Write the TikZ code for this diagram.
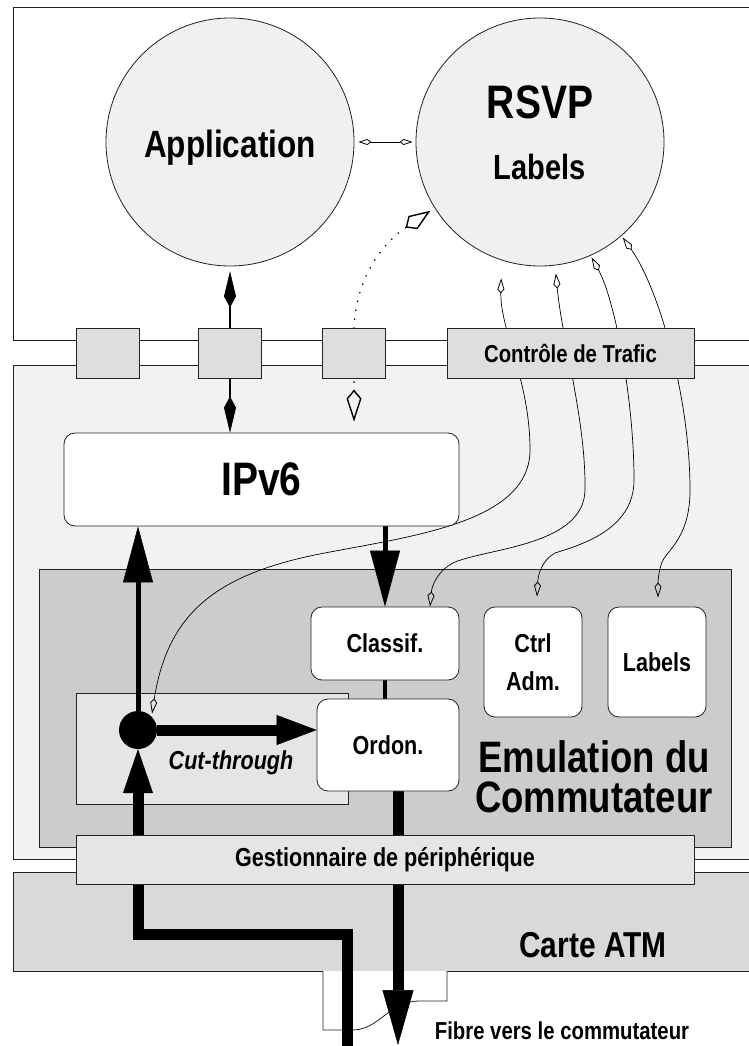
\documentclass[tikz,border=0pt]{standalone}
\usepackage{fontspec}
\usepackage{xcolor}
\usetikzlibrary{arrows.meta, calc}
\newfontfamily\hvfont{Liberation Sans}[FakeStretch=0.83]
\newcommand{\hvsize}[2]{\hvfont\bfseries\fontsize{#1}{#2}\selectfont}
\definecolor{CT_LINE}{HTML}{222222}
\definecolor{CT_DISC}{HTML}{F0F0F0}
\definecolor{CT_KERNEL}{HTML}{F2F2F2}
\definecolor{CT_PORT}{HTML}{DEDEDE}
\definecolor{CT_SWITCH}{HTML}{CCCCCC}
\definecolor{CT_CUT}{HTML}{E5E5E5}
\definecolor{CT_CARD}{HTML}{D9D9D9}
\pgfdeclarelayer{regions}
\pgfdeclarelayer{links}
\pgfsetlayers{regions,links,main}
\tikzset{
  edgeline/.style={draw=CT_LINE, line width=0.8pt},
  disc/.style={
    circle, edgeline, fill=CT_DISC,
    minimum size=248pt, inner sep=0pt},
  port/.style={
    rectangle, edgeline, fill=CT_PORT,
    minimum width=63pt, minimum height=50pt, inner sep=0pt},
  module/.style={
    rectangle, rounded corners=11pt, edgeline, fill=white,
    inner sep=0pt, align=center, font=\hvsize{26}{38}},
  ctlarrow/.style={
    {Kite[open,length=15pt,width=7pt,inset=4pt,line width=0.8pt]}-{Kite[open,length=15pt,width=7pt,inset=4pt,line width=0.8pt]},
    line width=0.7pt},
  dotlink/.style={
    {Kite[open,length=32pt,width=15pt,inset=9pt,line width=1.4pt]}-{Kite[open,length=30pt,width=16pt,inset=9pt,line width=1.4pt]},
    line width=1.8pt, dash pattern=on 0pt off 9pt, line cap=round},
  solidlink/.style={
    -{Kite[length=36pt,width=12pt,inset=11pt,line width=0.5pt]},
    line width=1.6pt},
  pkt/.style={
    -{Triangle[length=56pt,width=30pt,line width=0.5pt]},
    line width=5pt},
  cell/.style={line width=11pt, line join=miter},
}

\begin{document}
\begin{tikzpicture}[x=1pt, y=-1pt]

  \useasboundingbox (0,0) rectangle (749,1046);

  % regions
  \begin{pgfonlayer}{regions}
    \draw[edgeline, fill=white] (13,7) rectangle (770,340);
    \draw[edgeline, fill=CT_KERNEL] (13,365) rectangle (770,859);
    \draw[edgeline, fill=CT_CARD] (13,872) rectangle (770,971);
    \draw[edgeline, fill=white] (323,971) -- (323,1030) -- (352,1030)
      .. controls (380,1030) and (388,1001) .. (420,1001) -- (447,1001) -- (447,971);
    \draw[edgeline, fill=CT_SWITCH] (39,569) rectangle (731,847);
    \draw[edgeline, fill=CT_CUT] (76,693) rectangle (348,804);
  \end{pgfonlayer}

  \node[disc] (app) at (230,142) {};
  \node[disc] (rsvp) at (540,142) {};
  \node[font=\hvsize{38}{44}] (applbl) at (230,148) {Application};
  \node[font=\hvsize{47}{50}] (rsvplbl) at (540,102) {RSVP};
  \node[font=\hvsize{35}{40}] (lbllbl) at (540,166.5) {Labels};

  \node[port] (p1) at (107.5,353) {};
  \node[port] (p2) at (230,353) {};
  \node[port] (p3) at (354,353) {};
  \node[port, minimum width=247pt, font=\hvsize{24.5}{28}] (trafic) at (570.5,353)
    {Contrôle de Trafic};

  \node[module, minimum width=395pt, minimum height=93pt, font=\hvsize{47}{50}]
    (ipv6) at (261.5,479.5) {IPv6};
  \node[module, minimum width=148pt, minimum height=73pt] (classif) at (385,643.5) {Classif.};
  \node[module, minimum width=98pt, minimum height=110pt] (ctrl) at (533,662) {Ctrl\\Adm.};
  \node[module, minimum width=98pt, minimum height=110pt] (lab) at (657,662) {Labels};
  \node[module, minimum width=142pt, minimum height=92pt] (ordon) at (388,745) {Ordon.};

  \node[rectangle, edgeline, fill=CT_CUT, minimum width=618pt, minimum height=49pt,
    font=\hvsize{26}{30}] (gest) at (385,859.5) {Gestionnaire de périphérique};
  \node[circle, fill=black, minimum size=38pt, inner sep=0pt] (junc) at (138,730) {};

  \node[font=\hvsize{26}{30}\itshape] (cut) at (231,763) {Cut-through};
  \node[font=\hvsize{44}{40}, align=center] (emul) at (594,777) {Emulation du\\Commutateur};
  \node[font=\hvsize{36}{40}] (carte) at (593,945.5) {Carte ATM};
  \node[font=\hvsize{24.5}{28}] (fibre) at (562,1031) {Fibre vers le commutateur};

  \coordinate (fibin) at (347,1052);
  \coordinate (turn) at (347,934);
  \coordinate (fibout) at (398,1045);

  \begin{pgfonlayer}{links}
    % traffic control
    \draw[ctlarrow, shorten <=18pt, shorten >=3pt] (rsvp.-108)
      .. controls (500,330) and (530,380) .. (530,450)
      .. controls (530,520) and (420,535) .. (330,552)
      .. controls (220,572) and (168,610) .. (junc.north east);
    \draw[ctlarrow, shorten <=8pt] (rsvp.-83)
      .. controls (562,340) and (586,420) .. (585,490)
      .. controls (584,545) and (490,548) .. (455,562)
      .. controls (438,570) and (432,585) .. ([xshift=45pt]classif.north);
    \draw[ctlarrow, shorten <=2pt] (rsvp.-66)
      .. controls (615,300) and (634,400) .. (634,480)
      .. controls (634,530) and (580,545) .. (555,553)
      .. controls (542,560) and (538,575) .. ([shift={(4,-10)}]ctrl.north);
    \draw[ctlarrow, shorten <=2pt] (rsvp.-49.5)
      .. controls (660,290) and (690,400) .. (690,490)
      .. controls (690,535) and (670,548) .. (663,560)
      .. controls (659,568) and (658,580) .. ([shift={(1,-9)}]lab.north);

    \draw[dotlink, shorten <=11pt, shorten >=5pt] (ipv6.north -| p3) -- (p3.north)
      .. controls (356,280) and (380,245) .. (rsvp.-148);
    \draw[{Kite[open,length=13pt,width=6pt,inset=4pt]}-{Kite[open,length=13pt,width=6pt,inset=4pt]},
      line width=0.8pt, shorten <=4pt, shorten >=3pt] (app.east) -- (rsvp.west);
    \draw[solidlink, shorten >=5pt] (p2.north) -- (app.south);
    \draw[solidlink] (p2.south) -- (ipv6.north -| p2);

    % data path
    \draw[pkt] (junc.north) -- (ipv6.south -| junc);
    \draw[pkt] (ipv6.south -| classif) -- (classif.north);
    \draw[line width=4pt] (classif.south) -- (ordon.north -| classif);
    \draw[cell, -{Triangle[length=40pt,width=30pt,line width=0.5pt]}]
      (junc.east) -- (ordon.west |- junc);
    \draw[cell, -{Triangle[length=44pt,width=30pt,line width=0.5pt]}]
      (fibin) -- (turn) -- (turn -| junc) -- (junc.south);
    \draw[cell, -{Triangle[length=55pt,width=31pt,line width=0.5pt]}]
      (ordon.south -| fibout) -- (fibout);
  \end{pgfonlayer}

\end{tikzpicture}
\end{document}
